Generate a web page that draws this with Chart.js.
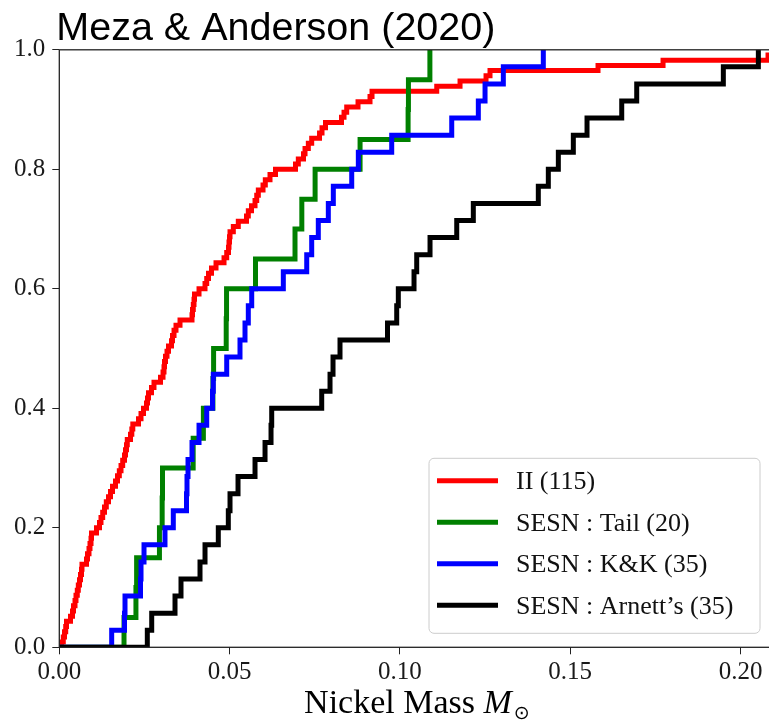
<!DOCTYPE html>
<html>
<head>
<meta charset="utf-8">
<script src="https://cdn.jsdelivr.net/npm/chart.js@4.4.1/dist/chart.umd.min.js"></script>
<style>
  html, body { margin: 0; padding: 0; background: #fff; overflow: hidden; }
  #wrap { position: absolute; left: 0; top: 0; width: 790px; height: 722px; }
</style>
</head>
<body>
<div id="wrap"><canvas id="cdf" width="790" height="722"></canvas></div>
<script>
// Sorted nickel masses (M_sun) per sample; each array becomes one empirical CDF
const massII = [
  0.00065, 0.00117, 0.00153, 0.00188, 0.00211, 0.00329, 0.00388, 0.00417, 0.00461, 0.00490,
  0.00528, 0.00558, 0.00593, 0.00622, 0.00652, 0.00666, 0.00799, 0.00828, 0.00872, 0.00901,
  0.00931, 0.00945, 0.01092, 0.01180, 0.01224, 0.01274, 0.01327, 0.01380, 0.01445, 0.01503,
  0.01562, 0.01650, 0.01709, 0.01762, 0.01812, 0.01861, 0.01914, 0.01944, 0.01973, 0.01996,
  0.02090, 0.02129, 0.02158, 0.02325, 0.02399, 0.02472, 0.02560, 0.02590, 0.02619, 0.02707,
  0.02780, 0.02971, 0.03045, 0.03074, 0.03089, 0.03118, 0.03162, 0.03206, 0.03294, 0.03324,
  0.03368, 0.03426, 0.03544, 0.03896, 0.03911, 0.03934, 0.03955, 0.03969, 0.04102, 0.04278,
  0.04328, 0.04380, 0.04469, 0.04601, 0.04836, 0.04915, 0.04968, 0.04982, 0.04997, 0.05012,
  0.05109, 0.05255, 0.05496, 0.05549, 0.05643, 0.05746, 0.05796, 0.05843, 0.05981, 0.06048,
  0.06186, 0.06348, 0.06935, 0.07017, 0.07170, 0.07214, 0.07311, 0.07410, 0.07640, 0.07713,
  0.07816, 0.08285, 0.08359, 0.08438, 0.08770, 0.09122, 0.09181, 0.11081, 0.11765, 0.12528,
  0.12645, 0.15816, 0.17725, 0.20807, 0.22500
];
const massTail = [
  0.0190, 0.0225, 0.0227, 0.0294, 0.0302, 0.0303, 0.0393, 0.0423, 0.0451, 0.0453,
  0.0490, 0.0491, 0.0576, 0.0692, 0.0712, 0.0751, 0.0883, 0.1024, 0.1025, 0.1088
];
const massKK = [
  0.01538, 0.01914, 0.01929, 0.02384, 0.02399, 0.02487, 0.03103, 0.03347, 0.03735, 0.03749,
  0.03779, 0.03896, 0.04102, 0.04328, 0.04498, 0.04521, 0.04915, 0.05305, 0.05452, 0.05549,
  0.05649, 0.06577, 0.07264, 0.07410, 0.07604, 0.07898, 0.08045, 0.08585, 0.08779, 0.09759,
  0.11521, 0.12302, 0.12499, 0.13036, 0.14210
];
const massArnett = [
  0.02584, 0.02713, 0.03397, 0.03573, 0.04131, 0.04278, 0.04668, 0.04962, 0.05012, 0.05247,
  0.05746, 0.06040, 0.06216, 0.06236, 0.07704, 0.07948, 0.08036, 0.08241, 0.09636, 0.09906,
  0.09953, 0.10414, 0.10493, 0.10884, 0.11668, 0.12155, 0.14063, 0.14357, 0.14651, 0.15091,
  0.15493, 0.16512, 0.16952, 0.19495, 0.20523
];

const seriesLabels = ['II (115)', 'SESN : Tail (20)', 'SESN : K&K (35)', 'SESN : Arnett\u2019s (35)'];
const seriesColors = ['#ff0000', '#008000', '#0000ff', '#000000'];
const xTicks = [0, 0.05, 0.10, 0.15, 0.20];
const yTicks = [0, 0.2, 0.4, 0.6, 0.8, 1.0];

const SERIF = "'Liberation Serif', 'DejaVu Serif', serif";

// empirical CDF: start at the origin, climb 1/n at each sorted mass
function cdfPoints(masses) {
  const n = masses.length;
  const pts = [{ x: 0, y: 0 }];
  masses.forEach((m, i) => pts.push({ x: m, y: (i + 1) / n }));
  return pts;
}

const samples = [massII, massTail, massKK, massArnett];
const datasets = samples.map((s, i) => ({
  label: seriesLabels[i],
  data: cdfPoints(s),
  borderColor: seriesColors[i],
  backgroundColor: seriesColors[i],
  borderWidth: 5,
  stepped: true,
  pointRadius: 0,
  fill: false,
  clip: 0,
  order: samples.length - i
}));

// axes frame drawn on top of the curves
const framePlugin = {
  id: 'frame',
  afterDatasetsDraw(chart) {
    const { ctx, chartArea: a } = chart;
    ctx.save();
    ctx.strokeStyle = '#222';
    ctx.lineWidth = 1.3;
    ctx.strokeRect(a.left, a.top, a.right - a.left, a.bottom - a.top);
    ctx.restore();
  }
};

// title, x label with subscript and the boxed legend
const textPlugin = {
  id: 'texts',
  afterDraw(chart) {
    const { ctx, chartArea: a } = chart;
    ctx.save();
    ctx.fillStyle = '#000';
    ctx.textBaseline = 'alphabetic';
    ctx.textAlign = 'left';
    ctx.font = "39.5px 'Liberation Sans', Arial, sans-serif";
    ctx.fillText('Meza & Anderson (2020)', a.left - 3, 40);

    const parts = [
      { text: 'Nickel Mass ', font: '34px ' + SERIF, dy: 0, gap: 0 },
      { text: 'M', font: 'italic 34px ' + SERIF, dy: 0, gap: 2 },
      { text: '\u2299', font: "19px 'DejaVu Sans', sans-serif", dy: 6, gap: 0 }
    ];
    let total = 0;
    parts.forEach(p => { ctx.font = p.font; p.w = ctx.measureText(p.text).width; total += p.w + p.gap; });
    let x = (a.left + a.right) / 2 - total / 2;
    parts.forEach(p => {
      ctx.font = p.font;
      ctx.fillText(p.text, x, 713 + p.dy);
      x += p.w + p.gap;
    });

    // legend box in the lower right corner of the axes
    const bw = 331, bh = 175;
    const bx = a.right - 14.6 - bw, by = a.bottom - 14 - bh;
    ctx.beginPath();
    ctx.roundRect(bx, by, bw, bh, 5);
    ctx.fillStyle = 'rgba(255,255,255,0.8)';
    ctx.fill();
    ctx.strokeStyle = '#cccccc';
    ctx.lineWidth = 1;
    ctx.stroke();

    ctx.font = '26px ' + SERIF;
    chart.data.datasets.forEach((ds, i) => {
      const cy = by + 22.5 + i * 41.5;
      ctx.strokeStyle = ds.borderColor;
      ctx.lineWidth = 5;
      ctx.beginPath();
      ctx.moveTo(bx + 8, cy);
      ctx.lineTo(bx + 69, cy);
      ctx.stroke();
      ctx.fillStyle = '#111';
      ctx.fillText(ds.label, bx + 87, cy + 8.5);
    });
    ctx.restore();
  }
};

new Chart(document.getElementById('cdf'), {
  type: 'line',
  data: { datasets },
  options: {
    responsive: false,
    animation: false,
    layout: { padding: { left: 0, top: 49.8, right: 15.4, bottom: 0 } },
    plugins: { legend: { display: false }, tooltip: { enabled: false }, title: { display: false } },
    scales: {
      x: {
        type: 'linear',
        min: 0,
        max: 0.21,
        afterBuildTicks: s => { s.ticks = xTicks.map(v => ({ value: v })); },
        afterFit: s => { s.height = 74.7; },
        border: { display: false },
        grid: { drawOnChartArea: false, drawTicks: true, tickLength: 7, tickColor: '#222', color: '#222' },
        ticks: {
          padding: 3,
          color: '#1a1a1a',
          font: { family: SERIF, size: 25 },
          maxRotation: 0,
          callback: v => v.toFixed(2)
        }
      },
      y: {
        type: 'linear',
        min: 0,
        max: 1,
        afterBuildTicks: s => { s.ticks = yTicks.map(v => ({ value: v })); },
        afterFit: s => { s.width = 59.3; },
        border: { display: false },
        grid: { drawOnChartArea: false, drawTicks: true, tickLength: 7, tickColor: '#222', color: '#222' },
        ticks: {
          padding: 7,
          color: '#1a1a1a',
          font: { family: SERIF, size: 25 },
          callback: v => v.toFixed(1)
        }
      }
    }
  },
  plugins: [framePlugin, textPlugin]
});
</script>
</body>
</html>
